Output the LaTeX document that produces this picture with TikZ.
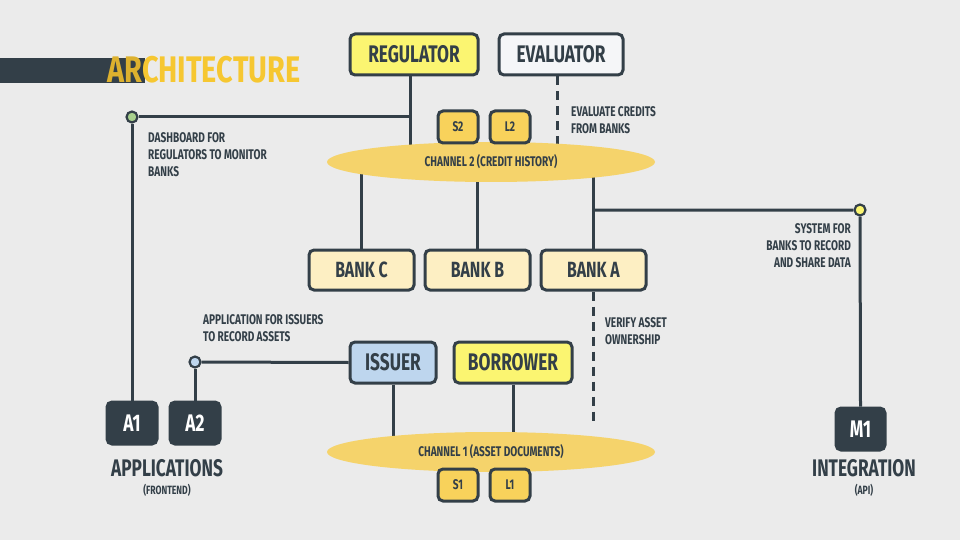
\documentclass[tikz,border=0pt]{standalone}
\usepackage{fontspec}
\setmainfont{Fira Sans}[FakeStretch=0.72]
\newfontfamily\headfont{Fira Sans}[FakeStretch=0.78]
\usetikzlibrary{shapes,calc,positioning,backgrounds}
\definecolor{ink}{HTML}{333F48}
\definecolor{bg}{HTML}{EBEBEB}
\definecolor{gold}{HTML}{F6C731}
\definecolor{deepgold}{HTML}{DDB12E}
\definecolor{lemon}{HTML}{FBF571}
\definecolor{cream}{HTML}{FDEFC3}
\definecolor{sky}{HTML}{BED6EE}
\definecolor{chan}{HTML}{F5D36B}
\definecolor{keyfill}{HTML}{F8D25B}
\definecolor{mint}{HTML}{A8D08D}
\definecolor{paper}{HTML}{F5F6F8}
\tikzset{
    x=1pt,y=-1pt,node distance=9pt and 9pt,
    actor/.style ={rectangle, rounded corners=5pt, draw=ink, line width=3pt, text=ink, inner sep=0pt, minimum height=41pt, font=\bfseries\fontsize{24}{24}\selectfont},
    bank/.style ={actor, fill=cream, minimum width=105pt, minimum height=40pt, font=\bfseries\fontsize{22}{22}\selectfont},
    keybox/.style ={actor, fill=keyfill, minimum width=40pt, minimum height=32pt, font=\bfseries\fontsize{14}{14}\selectfont},
    app/.style ={actor, fill=ink, text=white, minimum width=50pt, minimum height=42pt, font=\bfseries\fontsize{24}{24}\selectfont},
    channel/.style ={ellipse, fill=chan, minimum width=328pt, minimum height=40pt, inner sep=0pt, text=ink, font=\bfseries\fontsize{14}{14}\selectfont},
    point/.style = {circle, draw=ink, line width=2.2pt, inner sep=0pt, minimum size=11pt, node contents={}},
    note/.style = {text=ink, inner sep=0pt, align=left, font=\bfseries\fontsize{14}{17}\selectfont},
    title/.style = {text=ink, inner sep=0pt, font=\bfseries\fontsize{24}{24}\selectfont},
    subtitle/.style = {text=ink, inner sep=0pt, font=\bfseries\fontsize{12}{12}\selectfont},
    link/.style = {draw=ink, line width=3pt},
    dashlink/.style = {link, dash pattern=on 9pt off 6pt}
}

\begin{document}
\begin{tikzpicture}
    \useasboundingbox (0,0) rectangle (960,540);
    \fill[ink] (0,58) rectangle (145,83);
    \node[anchor=west, inner sep=0pt, font=\headfont\bfseries\fontsize{37}{37}\selectfont] (head) at (107,70)
        {\textcolor{deepgold}{AR}\textcolor{gold}{CHITECTURE}};

    %%Nodes
    \node[actor, fill=lemon, minimum width=128pt] (reg) at (414,54.5) {REGULATOR};
    \node[actor, fill=paper, minimum width=124pt] (eval) at (561,54.5) {EVALUATOR};
    \node[channel] (ch2) at (491,162) {CHANNEL 2 (CREDIT HISTORY)};
    \node[keybox] (s2) at (458,127) {S2};
    \node[keybox] (l2) [right =of s2] {L2};

    \node[bank] (bankc) at (361.5,270) {BANK C};
    \node[bank] (bankb) [right =8pt of bankc] {BANK B};
    \node[bank] (banka) [right =8pt of bankb] {BANK A};

    \node[actor, fill=sky, minimum width=86pt] (issuer) at (393,362.5) {ISSUER};
    \node[actor, fill=lemon, minimum width=118pt] (borrower) at (513,362.5) {BORROWER};
    \node[channel] (ch1) at (491,452) {CHANNEL 1 (ASSET DOCUMENTS)};
    \node[keybox] (s1) at (458,485) {S1};
    \node[keybox] (l1) [right =of s1] {L1};

    \node[app] (a1) at (132,423) {A1};
    \node[app] (a2) at (195,423) {A2};
    \node[app, minimum width=49pt] (m1) at (860.5,429) {M1};

    \node (dashdot) at (132,117) [point, fill=mint];
    \node (issdot) at (195,362) [point, fill=sky];
    \node (intdot) at (860,210) [point, fill=lemon];
    \coordinate (bj) at (banka.north |- intdot);
    \coordinate (regfoot) at ([xshift=-4pt]reg.south);
    \coordinate (evalfoot) at ([xshift=-4pt]eval.south);

    %%Texts
    \node[title] (apps) at (167,468) {APPLICATIONS};
    \node[subtitle] (front) at (167,490) {(FRONTEND)};
    \node[title] (integ) at (864,468) {INTEGRATION};
    \node[subtitle] (api) at (864,490) {(API)};
    \node[note, anchor=north west] (dashnote) at (148,132) {DASHBOARD FOR\\REGULATORS TO MONITOR\\BANKS};
    \node[note, anchor=north west] (evalnote) at (571,106) {EVALUATE CREDITS\\FROM BANKS};
    \node[note, anchor=north east, align=right] (sysnote) at (851,223) {SYSTEM FOR\\BANKS TO RECORD\\AND SHARE DATA};
    \node[note, anchor=north west] (verifynote) at (605,317) {VERIFY ASSET\\OWNERSHIP};
    \node[note, anchor=north west] (appnote) at (203,314) {APPLICATION FOR ISSUERS\\TO RECORD ASSETS};

    % Edges (and the page colour) behind the nodes
    \begin{scope}[on background layer]
        \fill[bg] (0,0) rectangle (960,540);
        \path[link] (regfoot) -- (regfoot |- ch2.center);
        \path[link] (dashdot) -- (dashdot -| regfoot);
        \path[link] (dashdot) -- (a1.north);
        \path[dashlink] (evalfoot) -- (evalfoot |- ch2.center);
        \path[link] (ch2.center -| bankc.north) -- (bankc.north);
        \path[link] (ch2.center -| bankb.north) -- (bankb.north);
        \path[link] (ch2.center -| banka.north) -- (banka.north);
        \path[link] (bj) -- (intdot) -- (m1.north);
        \path[dashlink] (banka.south) -- ($(banka.south |- ch1.north)+(0,-6)$);
        \path[link] (issuer.south) -- (issuer.south |- ch1.center);
        \path[link] (borrower.south) -- (borrower.south |- ch1.center);
        \path[link] (issdot) -- (issuer.west);
        \path[link] (issdot) -- (a2.north);
    \end{scope}
\end{tikzpicture}
\end{document}
